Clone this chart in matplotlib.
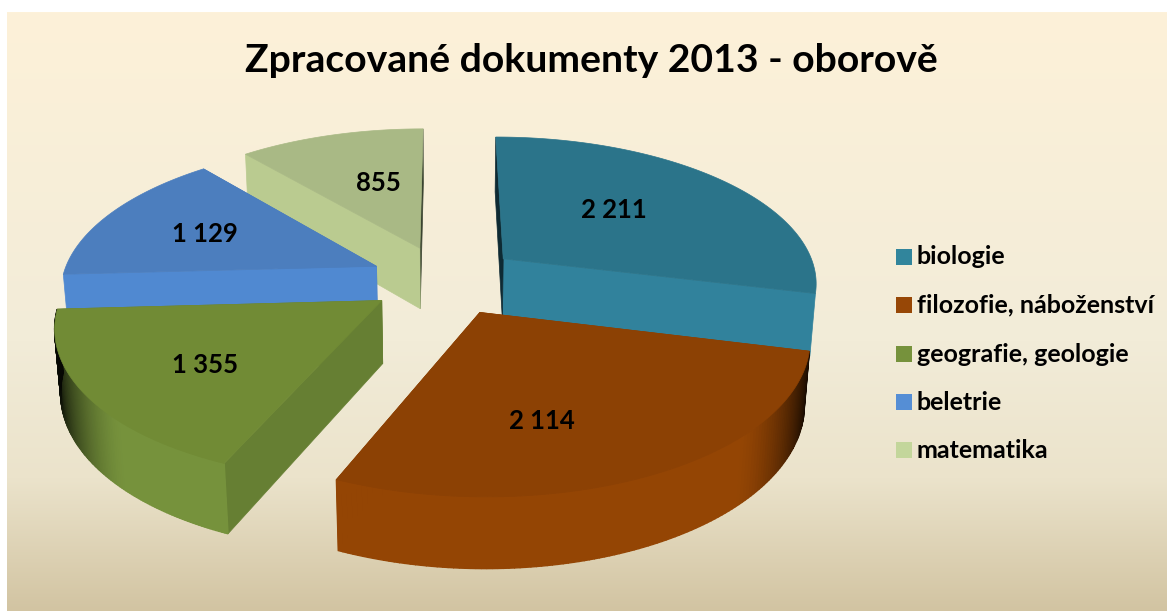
import numpy as np
import matplotlib
matplotlib.use("Agg")
import matplotlib.pyplot as plt
from matplotlib.colors import LinearSegmentedColormap, to_rgb

# data
categories = ["biologie", "filozofie, náboženství", "geografie, geologie", "beletrie", "matematika"]
values = [2211, 2114, 1355, 1129, 855]
value_labels = ["2 211", "2 114", "1 355", "1 129", "855"]

# colours: legend/side, top surface, face at start angle, face at end angle
side_colors = ["#31859C", "#974706", "#76923C", "#558ED5", "#C3D69B"]
wall_colors = ["#31859C", "#944504", "#76923C", "#558ED5", "#C3D69B"]
top_colors = ["#2B748A", "#8C4104", "#718B35", "#4C7EBE", "#A9B985"]
start_face = ["#0E2A33", "#8C4104", "#667F33", "#5089D1", "#BACB90"]
end_face = ["#31829C", "#8C4104", "#667F33", "#4C7EBE", "#3A4430"]

plt.rcParams["font.family"] = ["Lato", "DejaVu Sans"]

# projection of the pie, radius 1, z=0 top and z=1 bottom
cx, cy = 445, 280
ax_x, ax_y = 315, 146
persp = 0.15
depth, depth_persp = 63, 0.015
explode = 0.24


def project(u, v, z=0.0):
    w = 1 - persp * v + depth_persp * z
    return cx + ax_x * u / w, cy + (ax_y * v + depth * z) / w


def point(c, th, r=1.0):
    return c[0] + r * np.sin(th), c[1] - r * np.cos(th)


def shade(color, th):
    t = np.clip((abs(np.sin(th)) - 0.70) / 0.29, 0, 1)
    return tuple(np.array(to_rgb(color)) * (1 - 0.95 * t ** 1.5))


fig = plt.figure(figsize=(11.67, 6.11), dpi=100)
ax = fig.add_axes([0, 0, 1, 1])

# background panel
bg = LinearSegmentedColormap.from_list("bg", [(0, "#FDF1D9"), (0.55, "#F2ECD8"), (0.78, "#EBE3CB"), (1, "#D2C4A2")])
grad = np.linspace(0, 1, 256).reshape(-1, 1)
ax.imshow(grad, cmap=bg, extent=[7, 1167, 611, 12], aspect="auto", zorder=0)
ax.set_xlim(0, 1167)
ax.set_ylim(611, 0)
ax.axis("off")

fracs = np.array(values) / sum(values)
stops = np.concatenate([[0], np.cumsum(fracs)]) * 2 * np.pi

# back slices first
for order, i in enumerate([4, 3, 0, 2, 1]):
    a0, a1 = stops[i], stops[i + 1]
    mid = (a0 + a1) / 2
    c = (explode * np.sin(mid), -explode * np.cos(mid))
    ths = np.linspace(a0, a1, 120)
    us, vs = point(c, ths)

    # cut faces, the end one is the hidden one so it goes first
    for th, col in [(a1, end_face[i]), (a0, start_face[i])]:
        u, v = point(c, th)
        xa, ya = project(c[0], c[1])
        xb, yb = project(u, v)
        xc, yc = project(u, v, 1)
        xd, yd = project(c[0], c[1], 1)
        ax.fill([xa, xb, xc, xd], [ya, yb, yc, yd], color=col, lw=0.5, zorder=order + 1)

    # outer wall, only the part looking at the viewer
    for j in range(len(ths) - 1):
        if stops[1] <= ths[j] < stops[3]:
            x0, y0 = project(us[j], vs[j])
            x1, y1 = project(us[j + 1], vs[j + 1])
            x2, y2 = project(us[j + 1], vs[j + 1], 1)
            x3, y3 = project(us[j], vs[j], 1)
            col = shade(wall_colors[i], ths[j])
            ax.fill([x0, x1, x2, x3], [y0, y1, y2, y3], color=col, lw=1.0, zorder=order + 1)

    # top
    tx, ty = project(np.r_[c[0], us], np.r_[c[1], vs])
    ax.fill(tx, ty, color=top_colors[i], lw=0.5, zorder=order + 1)

label_x = [614, 542, 205, 205, 378]
label_y = [210, 421, 365, 234, 183]
for lab, x, y in zip(value_labels, label_x, label_y):
    ax.text(x, y, lab, ha="center", va="center", fontsize=18.5, fontweight="bold", color="black", zorder=20)

ax.text(591, 60, "Zpracované dokumenty 2013 - oborově", ha="center", va="center",
        fontsize=28.2, fontweight="bold", color="black", zorder=20)

# legend
leg_y = [257, 305, 354, 402, 450]
for name, col, y in zip(categories, side_colors, leg_y):
    ax.fill([896, 912, 912, 896], [y - 8, y - 8, y + 8, y + 8], color=col, lw=0, zorder=20)
    ax.text(917, y, name, ha="left", va="center", fontsize=18, fontweight="bold", color="black", zorder=20)

fig.savefig("out.png", dpi=100)
